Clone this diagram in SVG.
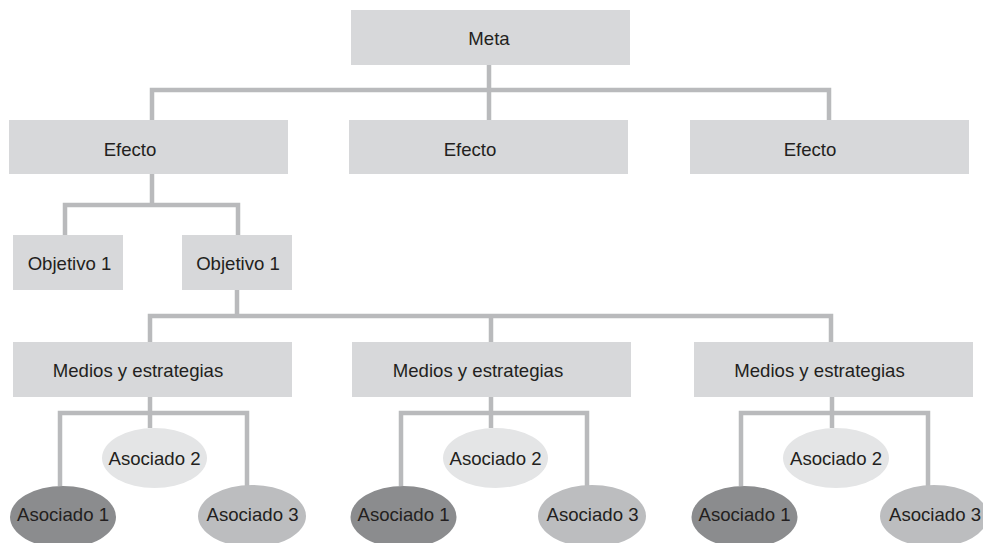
<svg xmlns="http://www.w3.org/2000/svg" width="983" height="543" viewBox="0 0 983 543">
  <style>
    .box { fill: #d7d8da; }
    .a1 { fill: #8b8c8e; }
    .a2 { fill: #e4e5e6; }
    .a3 { fill: #bcbdbf; }
    .lbl { font-family: "Liberation Sans", Arial, sans-serif; font-size: 18.6px; fill: #231f20; text-anchor: middle; }
    .conn { fill: none; stroke: #b9babc; stroke-width: 4.5; }
  </style>
  <rect width="983" height="543" fill="#ffffff"/>

  <!-- connectors -->
  <g id="connectors" class="conn">
    <path d="M489 65V120M152 120V90H829V120"/>
    <path d="M152 174V205M65 235V205H238V235"/>
    <path d="M237 290V316M150 342V316H831V342M491 316V342"/>
    <path d="M150 397V428M60 486V413H247V486"/>
    <path d="M491 397V428M401 486V413H587V486"/>
    <path d="M832 397V428M741 486V413H928V486"/>
  </g>

  <g id="meta"><rect class="box" x="351" y="10" width="279" height="55"/><text class="lbl" x="489" y="45">Meta</text></g>

  <g id="efecto-1"><rect class="box" x="9" y="120" width="279" height="54"/><text class="lbl" x="130" y="155.5">Efecto</text></g>
  <g id="efecto-2"><rect class="box" x="349" y="120" width="279" height="54"/><text class="lbl" x="470" y="155.5">Efecto</text></g>
  <g id="efecto-3"><rect class="box" x="690" y="120" width="279" height="54"/><text class="lbl" x="810" y="155.5">Efecto</text></g>

  <g id="objetivo-a"><rect class="box" x="13" y="235" width="110" height="55"/><text class="lbl" x="69.5" y="270">Objetivo 1</text></g>
  <g id="objetivo-b"><rect class="box" x="182" y="235" width="110" height="55"/><text class="lbl" x="238" y="270">Objetivo 1</text></g>

  <g id="medios-1"><rect class="box" x="13" y="342" width="279" height="55"/><text class="lbl" x="138" y="377">Medios y estrategias</text></g>
  <g id="medios-2"><rect class="box" x="352" y="342" width="279" height="55"/><text class="lbl" x="478" y="377">Medios y estrategias</text></g>
  <g id="medios-3"><rect class="box" x="694" y="342" width="279" height="55"/><text class="lbl" x="819.5" y="377">Medios y estrategias</text></g>

  <g id="asociado-2-g1"><ellipse class="a2" cx="154.5" cy="458" rx="52.5" ry="30"/><text class="lbl" x="154.5" y="465">Asociado 2</text></g>
  <g id="asociado-1-g1"><ellipse class="a1" cx="63" cy="517" rx="53" ry="31"/><text class="lbl" x="63" y="521">Asociado 1</text></g>
  <g id="asociado-3-g1"><ellipse class="a3" cx="252" cy="516" rx="54" ry="31"/><text class="lbl" x="252.5" y="521">Asociado 3</text></g>

  <g id="asociado-2-g2"><ellipse class="a2" cx="495.5" cy="458" rx="52.5" ry="30"/><text class="lbl" x="495.5" y="465">Asociado 2</text></g>
  <g id="asociado-1-g2"><ellipse class="a1" cx="403.5" cy="517" rx="53" ry="31"/><text class="lbl" x="403.5" y="521">Asociado 1</text></g>
  <g id="asociado-3-g2"><ellipse class="a3" cx="592" cy="516" rx="54" ry="31"/><text class="lbl" x="592.5" y="521">Asociado 3</text></g>

  <g id="asociado-2-g3"><ellipse class="a2" cx="836" cy="458" rx="53" ry="30"/><text class="lbl" x="836" y="465">Asociado 2</text></g>
  <g id="asociado-1-g3"><ellipse class="a1" cx="744.5" cy="517" rx="53" ry="31"/><text class="lbl" x="744.5" y="521">Asociado 1</text></g>
  <g id="asociado-3-g3"><ellipse class="a3" cx="934" cy="516" rx="54" ry="31"/><text class="lbl" x="935" y="521">Asociado 3</text></g>
</svg>
